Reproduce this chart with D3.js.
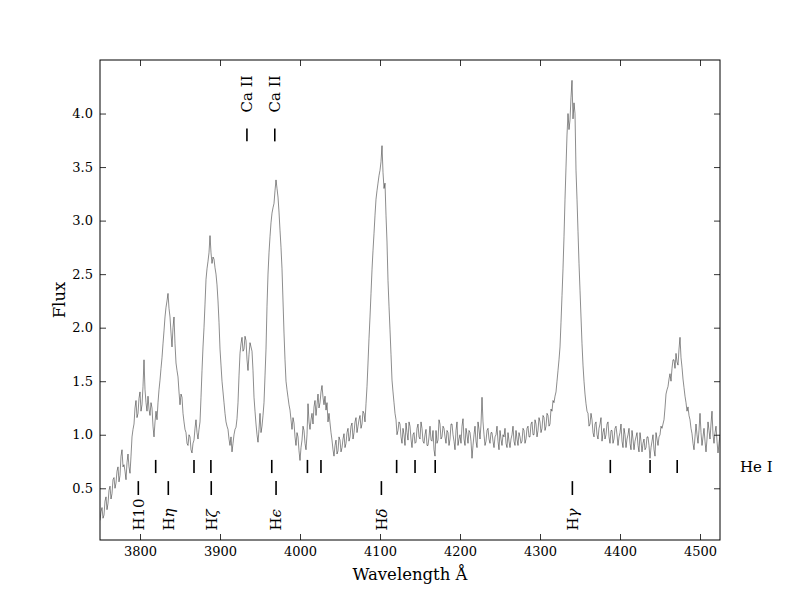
<!DOCTYPE html>
<html>
<head>
<meta charset="utf-8">
<script src="https://cdn.jsdelivr.net/npm/d3@7"></script>
<style>
  body { margin: 0; background: #fff; }
  text { font-family: "DejaVu Serif", serif; }
</style>
</head>
<body>
<script>
// spectrum with Balmer / He I / Ca II line markers
// flux sampled every 1.25 A starting at 3750 A (one row = 10 A), read off the plot

var fluxStart = 3750;
var fluxStep = 1.25;
var flux = [
  0.20, 0.28, 0.32, 0.22, 0.25, 0.38, 0.42, 0.30,
  0.36, 0.48, 0.52, 0.40, 0.45, 0.58, 0.60, 0.50,
  0.55, 0.66, 0.70, 0.56, 0.62, 0.80, 0.86, 0.70,
  0.72, 0.66, 0.58, 0.74, 0.82, 0.70, 0.64, 0.80,
  0.98, 1.05, 1.10, 1.25, 1.32, 1.16, 1.20, 1.34,
  1.40, 1.22, 1.28, 1.45, 1.70, 1.42, 1.30, 1.22,
  1.36, 1.24, 1.18, 1.30, 1.25, 1.08, 0.98, 1.12,
  1.22, 1.14, 1.30, 1.42, 1.51, 1.62, 1.72, 1.85,
  1.97, 2.10, 2.19, 2.25, 2.32, 2.18, 2.10, 1.95,
  1.82, 2.00, 2.10, 1.85, 1.67, 1.60, 1.54, 1.40,
  1.28, 1.38, 1.35, 1.20, 1.12, 1.05, 1.02, 0.92,
  0.90, 1.00, 0.98, 0.86, 0.83, 0.92, 0.95, 1.06,
  1.14, 1.02, 0.96, 1.05, 1.12, 1.35, 1.60, 1.82,
  2.00, 2.22, 2.45, 2.55, 2.62, 2.70, 2.86, 2.70,
  2.60, 2.66, 2.64, 2.56, 2.50, 2.40, 2.25, 2.05,
  1.80, 1.65, 1.50, 1.40, 1.30, 1.20, 1.12, 1.08,
  1.05, 0.96, 0.90, 0.98, 0.84, 0.92, 1.00, 1.05,
  1.07, 1.15, 1.30, 1.55, 1.76, 1.85, 1.91, 1.78,
  1.80, 1.92, 1.88, 1.70, 1.60, 1.75, 1.86, 1.82,
  1.78, 1.60, 1.35, 1.22, 1.10, 1.00, 0.93, 1.05,
  1.20, 1.02, 1.08, 1.18, 1.30, 1.55, 1.80, 2.20,
  2.50, 2.70, 2.85, 2.98, 3.07, 3.12, 3.16, 3.28,
  3.38, 3.30, 3.22, 3.08, 2.91, 2.75, 2.55, 2.25,
  1.95, 1.70, 1.50, 1.42, 1.35, 1.28, 1.23, 1.14,
  1.05, 1.16, 1.11, 0.98, 0.90, 1.02, 0.98, 0.85,
  0.76, 0.88, 0.95, 1.08, 1.04, 0.92, 0.86, 1.00,
  1.29, 1.12, 1.05, 1.14, 1.20, 1.10, 1.26, 1.32,
  1.18, 1.28, 1.38, 1.25, 1.30, 1.40, 1.46, 1.35,
  1.28, 1.36, 1.23, 1.30, 1.12, 1.20, 1.11, 1.02,
  0.95, 0.86, 0.80, 0.90, 0.95, 0.82, 0.85, 0.98,
  0.95, 0.84, 0.88, 0.96, 1.01, 0.88, 0.92, 1.02,
  1.06, 0.94, 0.98, 1.08, 1.11, 0.96, 1.02, 1.12,
  1.16, 1.02, 1.08, 1.14, 1.18, 1.06, 1.10, 1.22,
  1.20, 1.12, 1.29, 1.45, 1.67, 1.90, 2.10, 2.32,
  2.54, 2.72, 2.88, 3.05, 3.20, 3.28, 3.35, 3.42,
  3.47, 3.55, 3.70, 3.45, 3.30, 3.35, 3.05, 2.80,
  2.44, 2.20, 1.98, 1.75, 1.51, 1.40, 1.30, 1.20,
  1.14, 1.00, 1.04, 1.12, 1.10, 0.98, 0.92, 1.06,
  1.00, 0.90, 1.11, 1.02, 0.95, 1.12, 1.08, 0.96,
  0.88, 1.00, 1.02, 0.92, 0.93, 1.06, 1.10, 0.98,
  0.96, 1.12, 1.06, 0.94, 0.92, 1.00, 1.05, 0.90,
  0.90, 0.98, 1.08, 0.95, 0.94, 1.04, 0.86, 0.80,
  1.04, 0.92, 0.95, 1.14, 1.10, 0.96, 0.98, 1.08,
  1.06, 0.98, 0.92, 1.04, 1.02, 0.90, 0.96, 1.10,
  1.10, 1.00, 0.94, 0.86, 1.04, 1.12, 0.90, 0.96,
  1.00, 0.92, 1.08, 1.15, 0.96, 0.90, 1.06, 1.00,
  0.92, 1.04, 1.02, 0.94, 0.78, 0.90, 1.00, 1.08,
  0.94, 0.88, 1.12, 1.05, 0.96, 1.10, 1.35, 1.12,
  1.00, 0.90, 0.94, 1.04, 1.06, 0.96, 0.92, 1.02,
  1.02, 0.94, 0.88, 0.98, 1.00, 1.08, 0.94, 0.86,
  1.04, 0.96, 0.90, 1.00, 0.98, 1.06, 0.92, 0.88,
  1.02, 0.94, 0.88, 0.96, 1.00, 1.08, 0.94, 0.90,
  1.04, 0.96, 0.90, 1.02, 0.98, 0.92, 0.94, 1.06,
  1.04, 0.92, 0.96, 1.06, 1.08, 0.98, 0.98, 1.10,
  1.12, 1.00, 1.00, 1.14, 1.10, 0.98, 1.04, 1.16,
  1.12, 1.02, 1.06, 1.18, 1.16, 1.04, 1.08, 1.20,
  1.18, 1.08, 1.10, 1.24, 1.22, 1.32, 1.30, 1.36,
  1.40, 1.50, 1.60, 1.70, 1.82, 2.05, 2.30, 2.55,
  2.85, 3.20, 3.50, 3.80, 4.00, 3.85, 3.94, 4.15,
  4.31, 3.95, 4.10, 4.00, 3.47, 3.20, 2.90, 2.60,
  2.35, 2.10, 1.85, 1.65, 1.50, 1.38, 1.29, 1.22,
  1.20, 1.08, 1.10, 1.20, 1.14, 1.02, 0.98, 1.10,
  1.12, 1.00, 0.96, 1.06, 1.10, 1.16, 0.94, 1.02,
  1.06, 0.96, 1.00, 1.10, 1.12, 0.98, 0.92, 1.04,
  1.04, 0.92, 0.96, 1.06, 1.08, 1.00, 0.90, 0.98,
  1.02, 1.10, 0.94, 0.88, 1.06, 1.00, 0.88, 0.96,
  1.00, 1.06, 0.92, 0.86, 1.04, 0.96, 0.86, 0.94,
  0.98, 1.02, 0.90, 0.84, 1.02, 0.94, 0.84, 0.92,
  0.96, 0.86, 0.88, 0.98, 0.98, 0.90, 0.78, 0.88,
  0.94, 1.00, 0.86, 0.80, 1.02, 0.96, 0.90, 0.98,
  1.00, 1.08, 1.06, 1.10, 1.14, 1.25, 1.38, 1.42,
  1.45, 1.52, 1.57, 1.50, 1.62, 1.70, 1.70, 1.62,
  1.76, 1.68, 1.65, 1.80, 1.91, 1.72, 1.63, 1.52,
  1.44, 1.36, 1.30, 1.22, 1.26, 1.18, 1.14, 1.06,
  1.01, 0.92, 0.86, 0.98, 1.10, 1.00, 0.92, 1.04,
  1.20, 1.02, 0.90, 0.98, 1.06, 0.94, 0.84, 0.96,
  1.12, 1.04, 0.96, 1.10, 1.22, 1.00, 0.92, 1.02,
  1.08, 0.94, 0.83, 0.92, 1.00
];

var balmerWaves = [3797.90, 3835.38, 3889.05, 3970.07, 4101.74, 4340.47];
var balmerNames = ["H10", "Hη", "Hζ", "Hϵ", "Hδ", "Hγ"];
var heWaves = [3819.6, 3867.5, 3888.6, 3964.7, 4009.3, 4026.2,
               4120.8, 4143.8, 4169.0, 4387.9, 4437.6, 4471.5];
var heName = "He I";
var caWaves = [3933.66, 3968.47];
var caName = "Ca II";

var xTicks = [3800, 3900, 4000, 4100, 4200, 4300, 4400, 4500];
var yTicks = [0.5, 1.0, 1.5, 2.0, 2.5, 3.0, 3.5, 4.0];

var margin = { top: 60, right: 80, bottom: 60, left: 100 };
var width = 800 - margin.left - margin.right;
var height = 600 - margin.top - margin.bottom;

var svg = d3.select('body')
  .append('svg')
  .attr('width', 800)
  .attr('height', 600);

var g = svg.append('g')
  .attr('transform', 'translate(' + margin.left + ',' + margin.top + ')');

var x = d3.scaleLinear().domain([3750, 4525]).range([0, width]);
var y = d3.scaleLinear().domain([0.017, 4.5]).range([height, 0]);

var points = flux.map(function (f, i) {
  return [fluxStart + i * fluxStep, f];
});

g.append('defs').append('clipPath').attr('id', 'plotclip')
  .append('rect').attr('width', width).attr('height', height);

g.append('path')
  .datum(points)
  .attr('clip-path', 'url(#plotclip)')
  .attr('fill', 'none')
  .attr('stroke', '#1a1a1a')
  .attr('stroke-width', 0.5)
  .attr('d', d3.line()
    .x(function (d) { return x(d[0]); })
    .y(function (d) { return y(d[1]); }));

// axes, ticks pointing inward on all four sides
function styleAxis(sel) {
  sel.select('.domain').remove();
  sel.selectAll('.tick line').attr('stroke', '#000').attr('stroke-width', 0.8);
  sel.selectAll('.tick text')
    .attr('fill', '#000')
    .style('font-family', '"DejaVu Serif", serif')
    .style('font-size', '13px');
}

g.append('g')
  .attr('transform', 'translate(0,' + height + ')')
  .call(d3.axisBottom(x).tickValues(xTicks).tickFormat(d3.format('d'))
    .tickSizeInner(-6).tickSizeOuter(0).tickPadding(7))
  .call(styleAxis);

g.append('g')
  .call(d3.axisTop(x).tickValues(xTicks).tickFormat('')
    .tickSizeInner(-6).tickSizeOuter(0))
  .call(styleAxis);

g.append('g')
  .call(d3.axisLeft(y).tickValues(yTicks).tickFormat(d3.format('.1f'))
    .tickSizeInner(-6).tickSizeOuter(0).tickPadding(7))
  .call(styleAxis);

g.append('g')
  .attr('transform', 'translate(' + width + ',0)')
  .call(d3.axisRight(y).tickValues(yTicks).tickFormat('')
    .tickSizeInner(-6).tickSizeOuter(0))
  .call(styleAxis);

g.append('rect')
  .attr('width', width)
  .attr('height', height)
  .attr('fill', 'none')
  .attr('stroke', '#000')
  .attr('stroke-width', 1);

g.append('text')
  .attr('x', width / 2)
  .attr('y', height + 40)
  .attr('text-anchor', 'middle')
  .style('font-size', '16.5px')
  .text('Wavelength Å');

g.append('text')
  .attr('transform', 'translate(-35,' + (height / 2) + ') rotate(-90)')
  .attr('text-anchor', 'middle')
  .style('font-size', '16.5px')
  .text('Flux');

// He I markers
g.selectAll('.he-mark')
  .data(heWaves)
  .enter()
  .append('line')
  .attr('x1', function (d) { return x(d); })
  .attr('x2', function (d) { return x(d); })
  .attr('y1', y(0.765))
  .attr('y2', y(0.642))
  .attr('stroke', '#000')
  .attr('stroke-width', 1.6);

g.append('text')
  .attr('x', width + 20)
  .attr('y', y(0.705))
  .attr('dy', '0.35em')
  .style('font-size', '15px')
  .text(heName);

// Balmer markers and labels
g.selectAll('.balmer-mark')
  .data(balmerWaves)
  .enter()
  .append('line')
  .attr('x1', function (d) { return x(d); })
  .attr('x2', function (d) { return x(d); })
  .attr('y1', y(0.567))
  .attr('y2', y(0.437))
  .attr('stroke', '#000')
  .attr('stroke-width', 1.6);

var balmerLabels = g.selectAll('.balmer-label')
  .data(balmerWaves)
  .enter()
  .append('text')
  .attr('transform', function (d) {
    return 'translate(' + x(d) + ',' + y(0.105) + ') rotate(-90)';
  })
  .attr('dy', '0.36em')
  .style('font-size', '15px');

balmerLabels.each(function (d, i) {
  var name = balmerNames[i];
  var t = d3.select(this);
  t.append('tspan').text(name.charAt(0));
  var rest = name.slice(1);
  if (/^[0-9]+$/.test(rest)) {
    t.append('tspan').text(rest);
  } else {
    t.append('tspan').style('font-style', 'italic').text(rest);
  }
});

// Ca II markers and labels
g.selectAll('.ca-mark')
  .data(caWaves)
  .enter()
  .append('line')
  .attr('x1', function (d) { return x(d); })
  .attr('x2', function (d) { return x(d); })
  .attr('y1', y(3.86))
  .attr('y2', y(3.74))
  .attr('stroke', '#000')
  .attr('stroke-width', 1.6);

g.selectAll('.ca-label')
  .data(caWaves)
  .enter()
  .append('text')
  .attr('transform', function (d) {
    return 'translate(' + x(d) + ',' + y(4.01) + ') rotate(-90)';
  })
  .attr('dy', '0.36em')
  .style('font-size', '15px')
  .text(caName);
</script>
</body>
</html>
